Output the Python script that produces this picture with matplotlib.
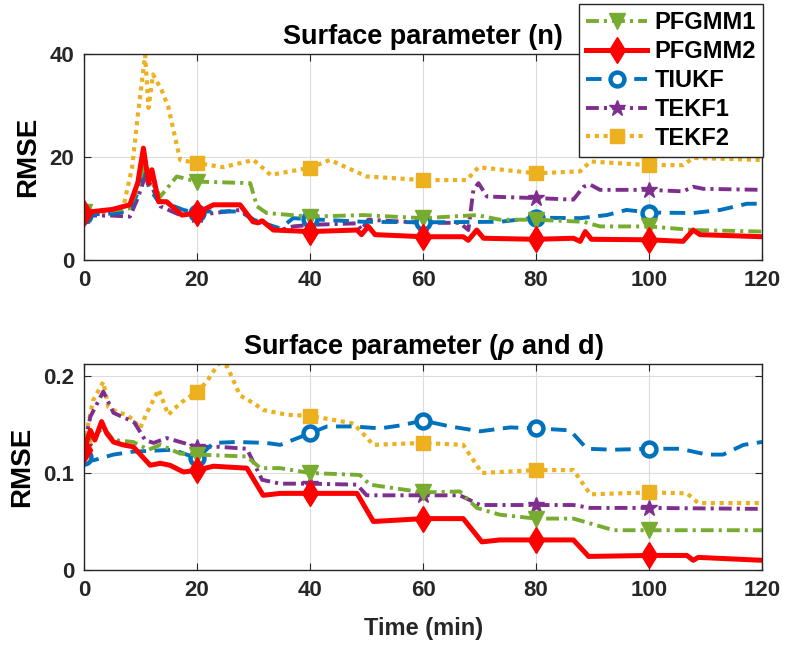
import numpy as np
import matplotlib
matplotlib.use('Agg')
import matplotlib.pyplot as plt

plt.rcParams['font.family'] = ['Liberation Sans', 'DejaVu Sans']
plt.rcParams['font.weight'] = 'bold'
plt.rcParams['mathtext.fontset'] = 'custom'
plt.rcParams['mathtext.it'] = 'Liberation Sans:italic:bold'

labels = ['PFGMM1', 'PFGMM2', 'TIUKF', 'TEKF1', 'TEKF2']
mark_times = [0, 20, 40, 60, 80, 100]

# surface parameter (n)
t_n_pf1 = [0, 5, 8, 9.5, 10.8, 12, 13.5, 16.4, 20, 29.4, 30.6, 32.3, 40, 49.4, 60,
           69.5, 73.6, 80, 88.4, 91.3, 100, 107.8, 120]
n_pf1 = [9.3, 9.6, 10, 14, 19.4, 15, 12.3, 16.2, 15.2, 14.9, 10.4, 9.1, 8.4, 8.7, 8.1,
         8.7, 7.8, 7.8, 7.4, 6.5, 6.5, 5.8, 5.5]

t_n_pf2 = [0, 5, 8.1, 9.5, 10.5, 11.4, 12, 13.2, 14.6, 17.3, 20, 22.9, 27.6, 29.9, 30.8,
           31.5, 33.5, 40, 48.3, 49.1, 50.3, 51.5, 60, 67.1, 68, 69.5, 70.7, 80, 86.6,
           87.8, 88.7, 89.8, 100, 106, 107.8, 109, 120]
n_pf2 = [9.2, 9.8, 10.7, 15, 21.7, 14.9, 17.5, 11.3, 11.3, 8.7, 9.1, 10.7, 10.7, 7.4, 7.2,
         7.6, 5.8, 5.5, 5.8, 4.9, 6.5, 4.9, 4.5, 4.5, 3.8, 5.8, 4.2, 4.0, 4.2,
         3.6, 5.5, 4.0, 3.9, 3.6, 5.8, 4.9, 4.5]

t_n_ukf = [0, 5, 8, 9.5, 10.5, 11.5, 12.9, 17.6, 20, 21.7, 27.6, 30, 34.7, 37, 40, 49.4,
           60, 73.6, 80, 87.8, 92.5, 96, 100, 107.8, 112.6, 117.3, 120]
n_ukf = [8.8, 9.0, 9.5, 13, 18, 14, 11.7, 9.7, 9.1, 9.4, 9.4, 7.8, 6.1, 8.1, 7.9, 7.4,
         7.3, 7.4, 8.2, 8.1, 8.7, 9.7, 9.2, 9.1, 9.7, 10.9, 10.9]

t_n_ekf1 = [0, 5, 8.1, 9.5, 10.8, 12, 13.5, 17, 20, 27.6, 30, 34.7, 37, 40, 48.3, 49.1,
            50.3, 60, 66.5, 68, 68.9, 69.8, 71.3, 80, 86.6, 88.4, 89.6, 91.3, 100, 106,
            107.8, 109.6, 120]
n_ekf1 = [8.6, 8.6, 8.4, 12, 16.2, 14.2, 10.4, 8.7, 8.7, 9.7, 7.8, 5.8, 6.5, 6.8, 7.1, 5.8,
          7.8, 7.2, 7.2, 5.8, 13.6, 14.9, 12.3, 12.0, 11.7, 14.2, 14.6, 13.6, 13.6, 13.3,
          14.2, 13.8, 13.6]

t_n_ekf2 = [0, 5, 7, 8.5, 9.5, 10.8, 11.4, 12.2, 13.7, 14.9, 17, 20, 24.6, 30, 33, 40, 43.5,
            50, 60, 67.7, 69.8, 80, 87.8, 89.6, 100, 106, 107.8, 120]
n_ekf2 = [9.0, 9.5, 10.5, 18, 28, 39.8, 29.5, 36, 33, 29.7, 19.4, 18.8, 18, 19.4, 16.5, 17.9,
          19.4, 16.2, 15.5, 15.5, 18, 16.8, 17.2, 19.1, 18.4, 18.4, 19.8, 19.4]

# surface parameter (rho and d)
t_r_pf1 = [0, 1.6, 3.4, 5.2, 8.7, 11.4, 13.5, 17, 20, 28.8, 31.2, 34.7, 40, 48.8, 50.6, 60,
           66.5, 69.5, 73.6, 80, 86.6, 89.6, 93.7, 100, 120]
r_pf1 = [0.132, 0.137, 0.147, 0.134, 0.132, 0.124, 0.129, 0.12, 0.119, 0.117, 0.105, 0.105,
         0.1, 0.098, 0.088, 0.08, 0.081, 0.064, 0.057, 0.053, 0.053, 0.048, 0.041, 0.041, 0.041]

t_r_pf2 = [0, 1.1, 1.9, 3.1, 4, 5.2, 6.9, 8.7, 11.7, 13.5, 15.2, 17.6, 20, 22.9, 28.8, 31.7,
           34.7, 40, 48.3, 51.2, 60, 67.1, 70.4, 73.6, 80, 86.6, 89.3, 100, 106.7, 107.8,
           108.7, 120]
r_pf2 = [0.124, 0.144, 0.134, 0.153, 0.141, 0.132, 0.129, 0.127, 0.108, 0.11, 0.108, 0.101,
         0.103, 0.107, 0.105, 0.077, 0.079, 0.079, 0.079, 0.05, 0.053, 0.053, 0.029, 0.031,
         0.031, 0.031, 0.014, 0.015, 0.015, 0.010, 0.013, 0.010]

t_r_ukf = [0, 1.6, 5.2, 8.7, 15.8, 20, 22.9, 27, 32.3, 34.7, 40, 43, 47.7, 52.4, 55.9, 60,
           64.8, 70.1, 75.4, 80, 86, 89, 93.6, 100, 105.5, 110.2, 113.1, 116.7, 120]
r_ukf = [0.117, 0.113, 0.119, 0.122, 0.124, 0.115, 0.131, 0.132, 0.131, 0.129, 0.141, 0.148,
         0.148, 0.146, 0.149, 0.154, 0.148, 0.143, 0.147, 0.146, 0.144, 0.125, 0.124, 0.125,
         0.125, 0.119, 0.119, 0.129, 0.132]

t_r_ekf1 = [0, 1.1, 3.4, 5.2, 7.5, 8.9, 10.8, 12.3, 14.6, 17, 20, 23.8, 28.8, 31.5, 34.7, 40,
            48.3, 50, 60, 66.5, 70.1, 80, 86.6, 89.6, 100, 120]
r_ekf1 = [0.127, 0.158, 0.184, 0.162, 0.156, 0.152, 0.134, 0.131, 0.136, 0.132, 0.127, 0.127,
          0.125, 0.093, 0.089, 0.089, 0.088, 0.077, 0.077, 0.077, 0.067, 0.067, 0.067, 0.064,
          0.064, 0.063]

t_r_ekf2 = [0, 1.6, 3.4, 4.3, 5.8, 7.5, 8.7, 9.9, 11.1, 13.2, 14.9, 17, 20, 21.7, 23.8, 25.3,
            27.6, 30, 31.7, 35.9, 40, 47.7, 51.2, 60, 67.1, 70.4, 80, 86.6, 89.6, 100, 106.7,
            108.7, 120]
r_ekf2 = [0.13, 0.175, 0.194, 0.168, 0.163, 0.16, 0.155, 0.146, 0.162, 0.186, 0.16, 0.172,
          0.184, 0.194, 0.213, 0.21, 0.18, 0.172, 0.165, 0.16, 0.159, 0.151, 0.129, 0.131,
          0.129, 0.1, 0.103, 0.103, 0.078, 0.08, 0.079, 0.069, 0.069]

colors = ['#77AC30', '#FF0000', '#0072BD', '#7E2F8E', '#EDB120']
styles = [
    dict(ls=(0, (3.3, 1.3, 0.8, 1.3)), lw=2.8, marker='v', ms=12, mfc=colors[0], mec=colors[0]),
    dict(ls='-', lw=3.6, marker='d', ms=13, mfc=colors[1], mec=colors[1]),
    dict(ls=(0, (4, 2.2)), lw=2.8, marker='o', ms=10, mfc='white', mec=colors[2], mew=3.2),
    dict(ls=(0, (3.3, 1.3, 0.8, 1.3)), lw=2.8, marker='*', ms=12, mfc=colors[3], mec=colors[3]),
    dict(ls=(0, (1, 1.1)), lw=3.0, marker='s', ms=10, mfc=colors[4], mec=colors[4]),
]


def marks(ts):
    return [i for i, t in enumerate(ts) if t in mark_times]


def style_axes(ax, ylim, yticks, title):
    ax.set_xlim(0, 120)
    ax.set_ylim(*ylim)
    ax.set_xticks(range(0, 121, 20))
    ax.set_yticks(yticks)
    ax.grid(True, color='#dcdcdc', lw=0.8)
    ax.set_axisbelow(True)
    ax.tick_params(direction='in', top=True, right=True, length=5,
                   color='#262626', pad=7, labelsize=16, labelcolor='#262626')
    for s in ax.spines.values():
        s.set_color('#262626')
        s.set_linewidth(1.0)
    ax.set_ylabel('RMSE', fontsize=20, fontweight='bold', labelpad=6)
    ax.set_title(title, fontsize=19.5, fontweight='bold', pad=7)


fig = plt.figure(figsize=(7.86, 6.53), dpi=100)
ax1 = fig.add_axes([0.107, 0.602, 0.8626, 0.3155])
ax2 = fig.add_axes([0.107, 0.1271, 0.8626, 0.3155])

top = [(t_n_pf1, n_pf1), (t_n_pf2, n_pf2), (t_n_ukf, n_ukf), (t_n_ekf1, n_ekf1), (t_n_ekf2, n_ekf2)]
bot = [(t_r_pf1, r_pf1), (t_r_pf2, r_pf2), (t_r_ukf, r_ukf), (t_r_ekf1, r_ekf1), (t_r_ekf2, r_ekf2)]

order = [4, 3, 2, 0, 1]
handles = [None] * 5
for i in order:
    t, v = top[i]
    h, = ax1.plot(t, v, color=colors[i], markevery=marks(t), label=labels[i], **styles[i])
    handles[i] = h
    t, v = bot[i]
    ax2.plot(t, v, color=colors[i], markevery=marks(t), **styles[i])

style_axes(ax1, (0, 40), [0, 20, 40], 'Surface parameter (n)')
style_axes(ax2, (0, 0.2124), [0, 0.1, 0.2], r'Surface parameter ($\rho$ and d)')
ax2.set_yticklabels(['0', '0.1', '0.2'])
ax2.set_xlabel('Time (min)', fontsize=17, fontweight='bold', color='#262626', labelpad=12)

leg = fig.legend(handles, labels, loc='upper right', bbox_to_anchor=(763 / 786, 1 - 4 / 653),
                 borderaxespad=0, prop={'size': 17, 'weight': 'bold'}, handlelength=2.6,
                 handletextpad=0.3, borderpad=0.3, labelspacing=0.25, fancybox=False,
                 framealpha=1, edgecolor='#262626')
leg.get_frame().set_linewidth(1.0)

fig.savefig('out.png', dpi=100)
